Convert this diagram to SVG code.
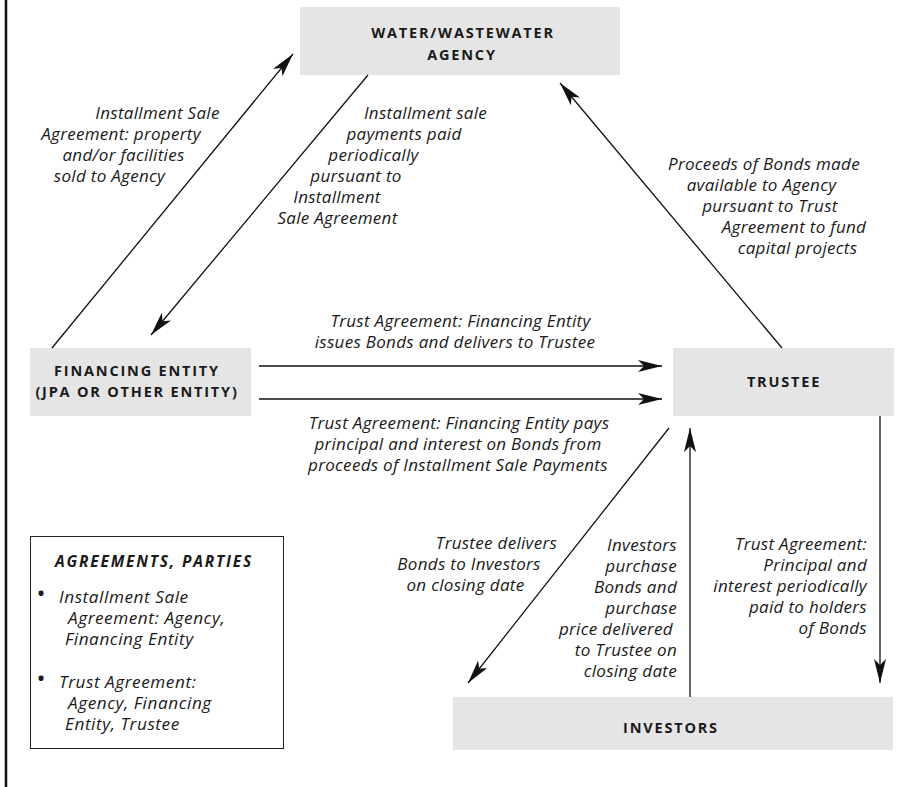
<svg xmlns="http://www.w3.org/2000/svg" width="912" height="787" viewBox="0 0 912 787">
<style>
.box{fill:#e5e5e5;}
.bt{font-family:"Open Sans","Liberation Sans",sans-serif;font-weight:700;font-size:14.5px;letter-spacing:1.8px;fill:#1a1a1a;text-anchor:middle;}
.lb{font-family:"Open Sans","Liberation Sans",sans-serif;font-style:italic;font-size:17px;letter-spacing:0.3px;fill:#1a1a1a;}
.lg{font-family:"Open Sans","Liberation Sans",sans-serif;font-style:italic;font-size:17.2px;letter-spacing:0.55px;fill:#1a1a1a;}
.bu{font-family:"Open Sans","Liberation Sans",sans-serif;font-size:24px;fill:#1a1a1a;text-anchor:middle;}
.c{text-anchor:middle;}
.r{text-anchor:end;}
.ln{stroke:#111;stroke-width:1.3;fill:none;marker-end:url(#ah);}
</style>
<defs>
<marker id="ah" markerUnits="userSpaceOnUse" markerWidth="26" markerHeight="14" refX="24" refY="6" orient="auto">
<path d="M0,0 L24,6 L0,12 L6,6 z" fill="#111"/>
</marker>
</defs>
<rect width="912" height="787" fill="#fff"/>
<line x1="6" y1="0" x2="6" y2="787" stroke="#111" stroke-width="2.5"/>

<g id="agency">
<rect class="box" x="300" y="7" width="320" height="68"/>
<text class="bt" x="463" y="38">WATER/WASTEWATER</text>
<text class="bt" x="462" y="60">AGENCY</text>
</g>
<g id="financing">
<rect class="box" x="30" y="348" width="221" height="68"/>
<text class="bt" x="137" y="376">FINANCING ENTITY</text>
<text class="bt" x="137" y="397">(JPA OR OTHER ENTITY)</text>
</g>
<g id="trustee">
<rect class="box" x="673" y="348" width="221" height="68"/>
<text class="bt" x="784" y="387">TRUSTEE</text>
</g>
<g id="investors">
<rect class="box" x="453" y="697" width="440" height="53"/>
<text class="bt" x="671" y="733">INVESTORS</text>
</g>
<g id="legend">
<rect x="30.5" y="536.5" width="253" height="212" fill="#fff" stroke="#222" stroke-width="1"/>
<text x="55" y="567" font-family="'Open Sans','Liberation Sans',sans-serif" font-weight="700" font-style="italic" font-size="15.5" letter-spacing="1.8" fill="#1a1a1a">AGREEMENTS, PARTIES</text>
<text class="bu" x="41" y="602">•</text>
<text class="bu" x="41" y="687">•</text>
<g class="lg">
<text x="59" y="603">Installment Sale</text>
<text x="68" y="624">Agreement: Agency,</text>
<text x="65" y="645">Financing Entity</text>
<text x="59" y="688">Trust Agreement:</text>
<text x="68" y="709">Agency, Financing</text>
<text x="65" y="730">Entity, Trustee</text>
</g>
</g>

<g id="connectors">
<line class="ln" x1="52" y1="348" x2="293" y2="54"/>
<line class="ln" x1="368" y1="75" x2="151" y2="335"/>
<line class="ln" x1="782" y1="348" x2="560" y2="83"/>
<line class="ln" x1="259" y1="366" x2="662" y2="366"/>
<line class="ln" x1="259" y1="399" x2="662" y2="399"/>
<line class="ln" x1="669" y1="428" x2="468" y2="683"/>
<line class="ln" x1="690" y1="697" x2="690" y2="428"/>
<line class="ln" x1="880" y1="416" x2="880" y2="683"/>
</g>

<g id="labels" class="lb">
<text class="c" x="157.5" y="119">Installment Sale</text>
<text class="c" x="121" y="140">Agreement: property</text>
<text class="c" x="123.5" y="161">and/or facilities</text>
<text class="c" x="109.5" y="182">sold to Agency</text>

<text class="c" x="425.5" y="119">Installment sale</text>
<text class="c" x="404" y="140">payments paid</text>
<text class="c" x="373.5" y="161">periodically</text>
<text class="c" x="356" y="182">pursuant to</text>
<text class="c" x="337" y="203">Installment</text>
<text class="c" x="337.5" y="224">Sale Agreement</text>

<text class="c" x="764" y="170">Proceeds of Bonds made</text>
<text class="c" x="761.5" y="191">available to Agency</text>
<text class="c" x="770" y="212">pursuant to Trust</text>
<text class="c" x="794" y="233">Agreement to fund</text>
<text class="c" x="797.5" y="254">capital projects</text>

<text class="c" x="460.5" y="327">Trust Agreement: Financing Entity</text>
<text class="c" x="455" y="348">issues Bonds and delivers to Trustee</text>

<text class="c" x="459" y="429">Trust Agreement: Financing Entity pays</text>
<text class="c" x="458" y="450">principal and interest on Bonds from</text>
<text class="c" x="458" y="471">proceeds of Installment Sale Payments</text>

<text class="c" x="496.5" y="549">Trustee delivers</text>
<text class="c" x="469" y="570">Bonds to Investors</text>
<text class="c" x="465.5" y="591">on closing date</text>

<text class="r" x="677" y="551">Investors</text>
<text class="r" x="677" y="572">purchase</text>
<text class="r" x="677" y="593">Bonds and</text>
<text class="r" x="677" y="614">purchase</text>
<text class="r" x="673" y="635">price delivered</text>
<text class="r" x="677" y="656">to Trustee on</text>
<text class="r" x="677" y="677">closing date</text>

<text class="r" x="867" y="550">Trust Agreement:</text>
<text class="r" x="867" y="571">Principal and</text>
<text class="r" x="867" y="592">interest periodically</text>
<text class="r" x="867" y="613">paid to holders</text>
<text class="r" x="867" y="634">of Bonds</text>
</g>
</svg>
